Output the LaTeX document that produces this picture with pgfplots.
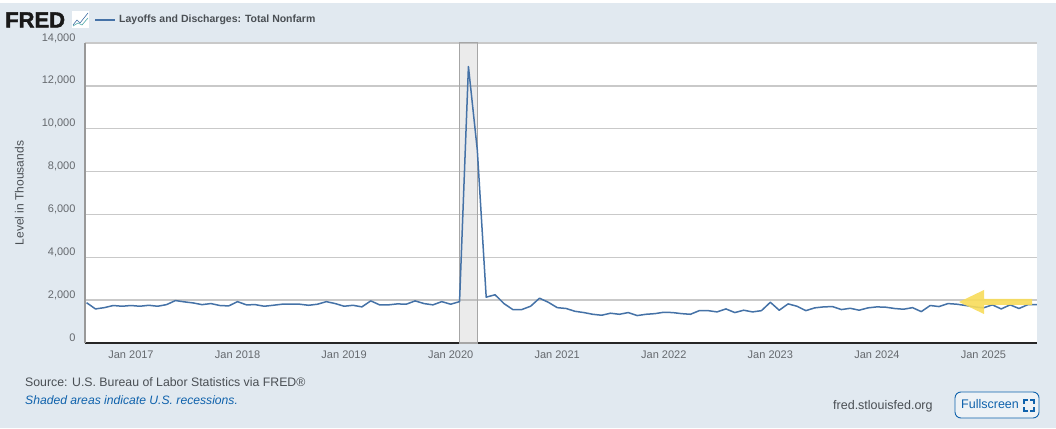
\documentclass[border=0pt]{standalone}
\usepackage{fontspec}
\setmainfont{Liberation Sans}
\newfontfamily\fredfont[FakeBold=1.6]{Liberation Sans Bold}
\usepackage{pgfplots}
\usepackage{pgfplotstable}
\pgfplotsset{compat=1.18}

\definecolor{fredbg}{HTML}{E1E9F0}
\definecolor{fredline}{HTML}{4572A7}
\definecolor{fredgrid}{HTML}{C9C9C9}
\definecolor{fredtext}{HTML}{4A4F54}
\definecolor{fredblue}{HTML}{0F62AC}
\definecolor{fredarrow}{HTML}{F8DC5A}

% months counted from Jan 2017 = 0, level in thousands
\pgfplotstableread{
m v
-5 1880
-4 1590
-3 1650
-2 1750
-1 1715
0 1750
1 1715
2 1760
3 1715
4 1790
5 1980
6 1920
7 1870
8 1790
9 1840
10 1750
11 1730
12 1930
13 1780
14 1790
15 1715
16 1760
17 1810
18 1810
19 1810
20 1760
21 1810
22 1930
23 1840
24 1715
25 1760
26 1685
27 1965
28 1780
29 1780
30 1825
31 1810
32 1965
33 1840
34 1780
35 1930
36 1810
37 1930
38 12900
39 9000
40 2140
41 2250
42 1840
43 1560
44 1560
45 1715
46 2090
47 1900
48 1650
49 1610
50 1480
51 1420
52 1340
53 1295
54 1390
55 1340
56 1420
57 1280
58 1340
59 1370
60 1435
61 1420
62 1370
63 1340
64 1510
65 1510
66 1450
67 1590
68 1420
69 1530
70 1450
71 1510
72 1900
73 1530
74 1825
75 1715
76 1510
77 1640
78 1685
79 1700
80 1560
81 1620
82 1530
83 1640
84 1685
85 1670
86 1610
87 1575
88 1650
89 1465
90 1750
91 1700
92 1840
93 1810
94 1750
95 1685
96 1640
97 1780
98 1590
99 1780
100 1610
101 1790
102 1790
}\layoffs

\begin{document}
\begin{tikzpicture}[x=1pt,y=1pt]
\useasboundingbox (0,0) rectangle (1056,428);
\fill[white] (0,0) rectangle (1056,428);
\fill[fredbg] (0,0) rectangle (1056,425);

\begin{axis}[
    at={(85pt,85pt)}, anchor=south west,
    scale only axis, width=952pt, height=300pt,
    xmin=-5.18, xmax=102.03, ymin=0, ymax=14000,
    axis x line=bottom, axis y line=left,
    x axis line style={-, black!85, line width=1.8pt},
    y axis line style={-, gray!80, line width=1.5pt},
    axis background/.style={fill=white},
    xtick={0,12,24,36,48,60,72,84,96},
    xticklabels={Jan 2017,Jan 2018,Jan 2019,Jan 2020,Jan 2021,Jan 2022,Jan 2023,Jan 2024,Jan 2025},
    ytick={0,2000,4000,6000,8000,10000,12000,14000},
    ymajorgrids, major grid style={fredgrid, line width=1.4pt},
    major tick length=0pt,
    scaled y ticks=false,
    /pgf/number format/assume math mode=true,
    /pgf/number format/1000 sep={,},
    tick label style={font=\fontsize{11}{13}\selectfont, text=fredtext!85},
    yticklabel style={yshift=5pt, xshift=-6pt},
    xticklabel style={yshift=-4pt},
    every axis y label/.style={at={(axis description cs:-0.069,0.5)}, rotate=90, anchor=center,
        font=\fontsize{12}{14}\selectfont, text=fredtext},
    ylabel={Level in Thousands},
]
\addplot[fill=gray!70, fill opacity=0.22, draw=gray!70, line width=1pt] coordinates {(37,0) (37,14000) (39,14000) (39,0)} -- cycle;
\addplot[fredline, line width=1.5pt, line join=round] table[x=m, y=v] {\layoffs};
\end{axis}

% yellow arrow
\fill[fredarrow, opacity=0.9] (959,126) -- (984,138) -- (984,129) -- (1032,129) -- (1032,123) -- (984,123) -- (984,114) -- cycle;

% header
\node[anchor=west, inner sep=0pt, black!90] at (5,408) {\fontsize{22}{22}\selectfont\fredfont FRED};
\fill[white] (72,400) rectangle (89,417);
\draw[fredline, line width=0.6pt] (73,403) -- (77,408) -- (80,405) -- (88,415);
\draw[teal!70, line width=0.6pt] (73,402) -- (78,405) -- (82,403) -- (88,410);
\draw[fredline, line width=2pt] (95,408) -- (115,408);
\node[anchor=west, inner sep=0pt, text=fredtext] at (119,408) {\fontsize{10.5}{12}\selectfont\bfseries Layoffs and Discharges: Total Nonfarm};

% footer
\node[anchor=west, inner sep=0pt, text=fredtext] at (25,46) {\fontsize{12.3}{14}\selectfont Source: U.S. Bureau of Labor Statistics via FRED®};
\node[anchor=west, inner sep=0pt, text=fredblue] at (25,28) {\fontsize{12.15}{14}\selectfont\itshape Shaded areas indicate U.S. recessions.};
\node[anchor=west, inner sep=0pt, text=fredtext] at (833,22) {\fontsize{12.5}{14}\selectfont fred.stlouisfed.org};
\draw[fredblue, fill=white!40!fredbg, line width=0.9pt, rounded corners=6pt] (955,10) rectangle (1039,36);
\node[anchor=west, inner sep=0pt, text=fredblue] at (961,23.5) {\fontsize{12.5}{14}\selectfont Fullscreen};
\draw[fredblue, line width=1.2pt] (1024,24) -- (1024,28) -- (1028,28) (1030,28) -- (1034,28) -- (1034,24) (1034,21) -- (1034,17) -- (1030,17) (1028,17) -- (1024,17) -- (1024,21);
\end{tikzpicture}
\end{document}
